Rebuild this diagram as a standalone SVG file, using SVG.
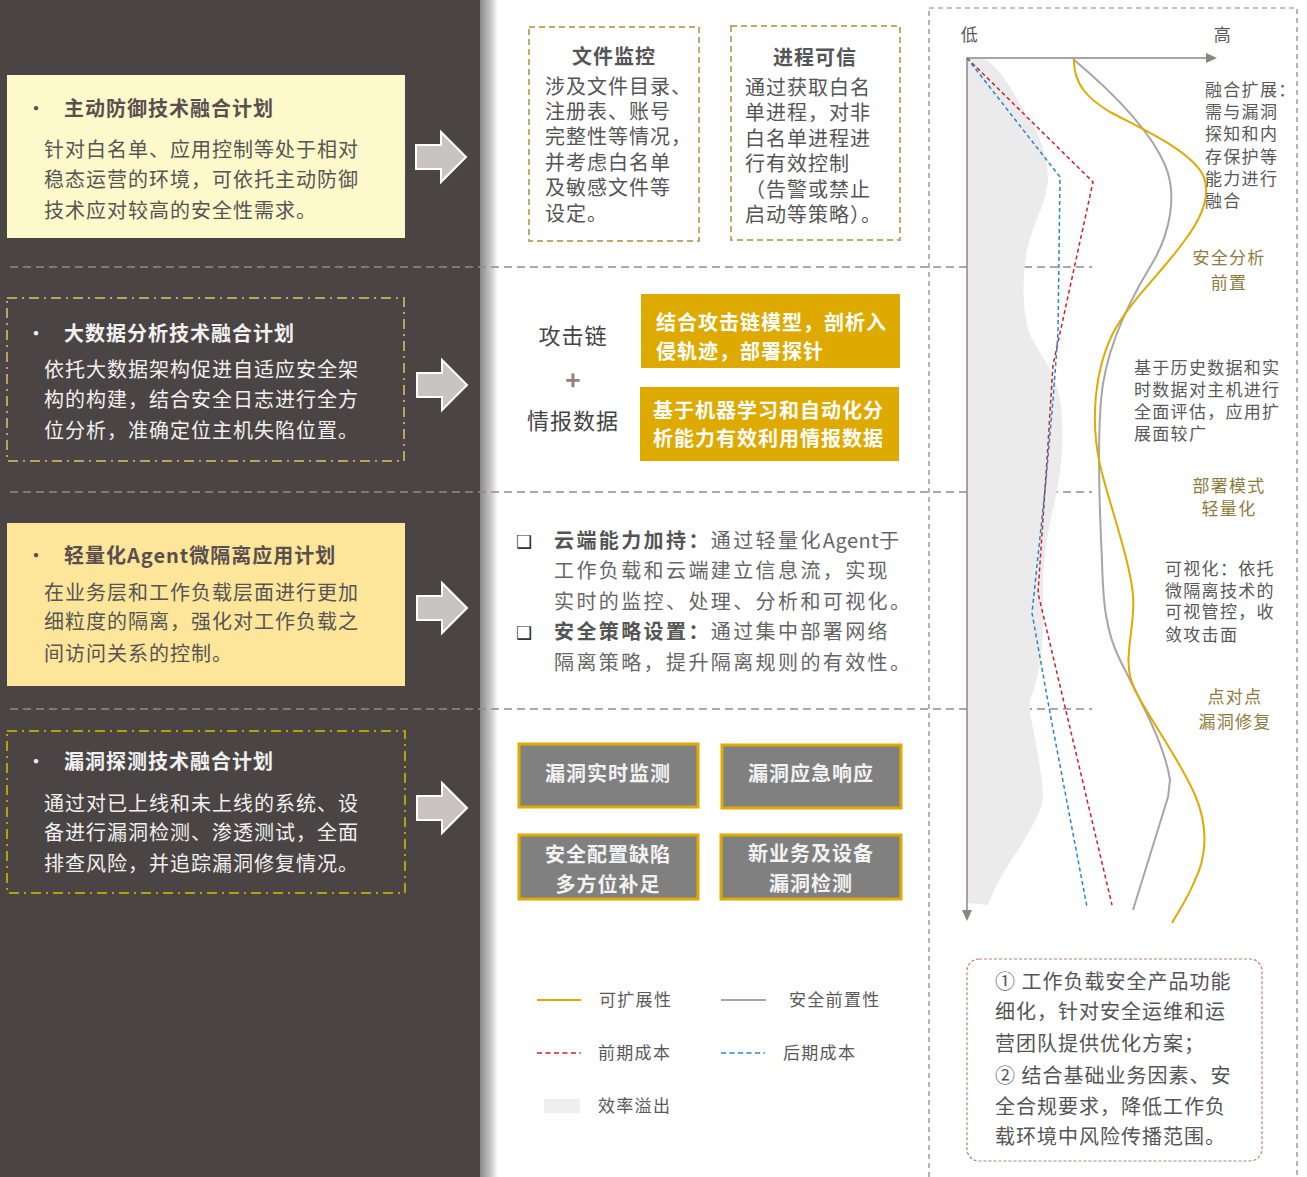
<svg xmlns="http://www.w3.org/2000/svg" width="1307" height="1177" viewBox="0 0 1307 1177">
<defs>
<style>
text{font-family:"Noto Sans CJK SC","Noto Sans",sans-serif;}
.t20{font-size:20px;letter-spacing:1px;}
.b{font-weight:bold;}
.dk{fill:#555;}
.wt{fill:#f0f0f0;}
.ttl1{fill:#5a4f4f;font-weight:bold;}
.sep{stroke:#948b8b;stroke-width:1.5;stroke-dasharray:8 5;fill:none;}
.tbox{fill:none;stroke:#c0aa6a;stroke-width:2;stroke-dasharray:6 4;}
.gbox{fill:#dfaa00;}
.vbox{fill:#808080;stroke:#e0aa00;stroke-width:3;}
.cl{font-size:20px;letter-spacing:2.4px;fill:#666;}
.cl .b{fill:#555;}
.lat{letter-spacing:0.5px;}
.lab{font-size:17px;letter-spacing:1.3px;fill:#595959;}
.gold{font-size:17px;letter-spacing:1.3px;fill:#8f7b3e;}
.arw{fill:#c9c3c3;stroke:#fff;stroke-width:2;}
</style>
<linearGradient id="shadow" x1="0" y1="0" x2="1" y2="0">
<stop offset="0" stop-color="#8a8a8a"/>
<stop offset="0.6" stop-color="#c8c8c8"/>
<stop offset="1" stop-color="#ffffff"/>
</linearGradient>
<path id="arrow" d="M0,-12 H25 V-25 L50,0 L25,25 V12 H0 Z"/>
</defs>
<rect x="0" y="0" width="1307" height="1177" fill="#fff"/>
<rect x="0" y="0" width="480" height="1177" fill="#4a4544"/>
<rect x="480" y="0" width="18" height="1177" fill="url(#shadow)"/>

<g id="separators">
<line class="sep" x1="10" y1="267" x2="1092" y2="267"/>
<line class="sep" x1="10" y1="492" x2="1092" y2="492"/>
<line class="sep" x1="10" y1="709" x2="1092" y2="709"/>
</g>

<g id="plan1">
<rect x="7" y="75" width="398" height="163" fill="#fef9cb"/>
<text x="26" y="116" class="t20" fill="#5a4f4f">•</text>
<text x="64" y="116" class="t20 ttl1">主动防御技术融合计划</text>
<text class="t20 dk"><tspan x="44" y="157">针对白名单、应用控制等处于相对</tspan><tspan x="44" y="187">稳态运营的环境，可依托主动防御</tspan><tspan x="44" y="218">技术应对较高的安全性需求。</tspan></text>
</g>
<g id="plan2">
<rect x="7" y="298" width="397" height="163" fill="none" stroke="#b8a558" stroke-width="2" stroke-dasharray="10 5 2 5"/>
<text x="26" y="341" class="t20 wt">•</text>
<text x="64" y="341" class="t20 wt b">大数据分析技术融合计划</text>
<text class="t20 wt"><tspan x="44" y="377">依托大数据架构促进自适应安全架</tspan><tspan x="44" y="407">构的构建，结合安全日志进行全方</tspan><tspan x="44" y="438">位分析，准确定位主机失陷位置。</tspan></text>
</g>
<g id="plan3">
<rect x="7" y="523" width="398" height="163" fill="#fde59a"/>
<text x="26" y="563" class="t20" fill="#5a4f4f">•</text>
<text x="64" y="563" class="t20 ttl1">轻量化Agent微隔离应用计划</text>
<text class="t20 dk"><tspan x="44" y="600">在业务层和工作负载层面进行更加</tspan><tspan x="44" y="629">细粒度的隔离，强化对工作负载之</tspan><tspan x="44" y="661">间访问关系的控制。</tspan></text>
</g>
<g id="plan4">
<rect x="7" y="731" width="398" height="162" fill="none" stroke="#b3a300" stroke-width="2" stroke-dasharray="10 5 2 5"/>
<text x="26" y="769" class="t20 wt">•</text>
<text x="64" y="769" class="t20 wt b">漏洞探测技术融合计划</text>
<text class="t20 wt"><tspan x="44" y="811">通过对已上线和未上线的系统、设</tspan><tspan x="44" y="840">备进行漏洞检测、渗透测试，全面</tspan><tspan x="44" y="871">排查风险，并追踪漏洞修复情况。</tspan></text>
</g>

<g id="arrows">
<use href="#arrow" class="arw" transform="translate(416,157)"/>
<use href="#arrow" class="arw" transform="translate(417,385)"/>
<use href="#arrow" class="arw" transform="translate(417,608)"/>
<use href="#arrow" class="arw" transform="translate(417,808)"/>
</g>

<g id="file-monitor">
<rect class="tbox" x="529" y="27" width="170" height="214"/>
<text x="614" y="64" class="t20 b dk" text-anchor="middle">文件监控</text>
<text class="t20 dk"><tspan x="545" y="94">涉及文件目录、</tspan><tspan x="545" y="119">注册表、账号</tspan><tspan x="545" y="144">完整性等情况，</tspan><tspan x="545" y="170">并考虑白名单</tspan><tspan x="545" y="195">及敏感文件等</tspan><tspan x="545" y="221">设定。</tspan></text>
</g>
<g id="process-trust">
<rect class="tbox" x="731" y="26" width="169" height="214"/>
<text x="815" y="65" class="t20 b dk" text-anchor="middle">进程可信</text>
<text class="t20 dk"><tspan x="745" y="95">通过获取白名</tspan><tspan x="745" y="120">单进程，对非</tspan><tspan x="745" y="146">白名单进程进</tspan><tspan x="745" y="171">行有效控制</tspan><tspan x="745" y="197">（告警或禁止</tspan><tspan x="745" y="222">启动等策略）。</tspan></text>
</g>

<g id="attack-chain">
<text x="573" y="344" font-size="22" letter-spacing="1" fill="#444" text-anchor="middle">攻击链</text>
<text x="573" y="390" font-size="26" font-weight="bold" fill="#9b7b7b" text-anchor="middle">+</text>
<text x="573" y="429" font-size="22" letter-spacing="1" fill="#444" text-anchor="middle">情报数据</text>
</g>
<g id="gold-box-1">
<rect class="gbox" x="641" y="294" width="259" height="74"/>
<text class="t20 b" fill="#fff"><tspan x="656" y="330">结合攻击链模型，剖析入</tspan><tspan x="656" y="359">侵轨迹，部署探针</tspan></text>
</g>
<g id="gold-box-2">
<rect class="gbox" x="640" y="387" width="259" height="74"/>
<text class="t20 b" fill="#fff"><tspan x="653" y="418">基于机器学习和自动化分</tspan><tspan x="653" y="446">析能力有效利用情报数据</tspan></text>
</g>

<g id="cloud-text">
<text x="516" y="548" font-family="DejaVu Sans, sans-serif" font-size="18" fill="#333">❑</text>
<text x="516" y="639" font-family="DejaVu Sans, sans-serif" font-size="18" fill="#333">❑</text>
<text class="cl"><tspan x="554" y="548" class="b">云端能力加持：</tspan><tspan>通过轻量化</tspan><tspan class="lat">Agent</tspan><tspan>于</tspan></text>
<text class="cl" x="554" y="578">工作负载和云端建立信息流，实现</text>
<text class="cl" x="554" y="609">实时的监控、处理、分析和可视化。</text>
<text class="cl"><tspan x="554" y="639" class="b">安全策略设置：</tspan><tspan>通过集中部署网络</tspan></text>
<text class="cl" x="554" y="670">隔离策略，提升隔离规则的有效性。</text>
</g>

<g id="vuln-1">
<rect class="vbox" x="519" y="744" width="179" height="63"/>
<text x="608" y="781" class="t20 b" fill="#f2f2f2" text-anchor="middle">漏洞实时监测</text>
</g>
<g id="vuln-2">
<rect class="vbox" x="722" y="745" width="179" height="63"/>
<text x="811" y="781" class="t20 b" fill="#f2f2f2" text-anchor="middle">漏洞应急响应</text>
</g>
<g id="vuln-3">
<rect class="vbox" x="519" y="835" width="179" height="64"/>
<text class="t20 b" fill="#f2f2f2" text-anchor="middle"><tspan x="608" y="862">安全配置缺陷</tspan><tspan x="608" y="892">多方位补足</tspan></text>
</g>
<g id="vuln-4">
<rect class="vbox" x="721" y="835" width="180" height="64"/>
<text class="t20 b" fill="#f2f2f2" text-anchor="middle"><tspan x="811" y="861">新业务及设备</tspan><tspan x="811" y="891">漏洞检测</tspan></text>
</g>

<g id="chart">
<rect x="929" y="8" width="368" height="1175" fill="none" stroke="#8a8080" stroke-width="1.2" stroke-dasharray="5 4"/>
<path d="M967,58 L987,60 C1000,70 1012,88 1020,105 C1035,125 1048,150 1048,180 C1046,205 1032,225 1027,250 C1022,280 1022,310 1030,335 C1040,355 1055,370 1060,400 C1065,430 1062,470 1055,500 C1048,530 1042,560 1043,600 C1044,640 1042,670 1030,700 L1030,713 C1035,740 1043,775 1043,800 C1040,815 1030,830 1020,847 C1008,865 995,885 988,905 L967,903 Z" fill="#ebebeb"/>
<line x1="967" y1="58" x2="967" y2="912" stroke="#8c8584" stroke-width="1.5"/>
<line x1="967" y1="58" x2="1208" y2="58" stroke="#8c8584" stroke-width="1.5"/>
<path d="M962,910 L972,910 L967,921 Z" fill="#8c8584"/>
<path d="M1206,53 L1217,58 L1206,63 Z" fill="#8c8584"/>
<text x="970" y="41" class="lab" text-anchor="middle">低</text>
<text x="1223" y="41" class="lab" text-anchor="middle">高</text>
<path d="M967,58 L1093,182 L1053,365 L1047,460 L1038,593 L1112,905" fill="none" stroke="#d0202a" stroke-width="1.5" stroke-dasharray="4 3"/>
<path d="M967,58 L1060,177 L1058,333 L1053,400 L1046,480 L1032,613 L1050,713 L1087,907" fill="none" stroke="#2a84cc" stroke-width="1.5" stroke-dasharray="4 3"/>
<path d="M1073,59 C1110,90 1150,130 1165,165 C1178,195 1170,235 1150,267 C1130,300 1105,350 1101,400 C1097,450 1100,520 1102,560 C1103,600 1105,630 1120,660 C1140,700 1165,745 1170,780 L1168,797 L1133,910" fill="none" stroke="#a6a6a6" stroke-width="2"/>
<path d="M1074,59 C1073,85 1090,100 1110,112 C1140,128 1190,150 1203,175 C1212,195 1200,220 1185,240 C1160,275 1130,300 1112,335 C1095,370 1090,420 1100,465 C1108,500 1130,560 1133,595 C1136,630 1120,660 1135,690 C1150,720 1180,760 1195,795 C1210,830 1205,860 1195,880 C1188,898 1178,912 1172,923" fill="none" stroke="#e0aa00" stroke-width="2"/>
<text class="lab"><tspan x="1205" y="96">融合扩展：</tspan><tspan x="1205" y="118">需与漏洞</tspan><tspan x="1205" y="140">探知和内</tspan><tspan x="1205" y="163">存保护等</tspan><tspan x="1205" y="185">能力进行</tspan><tspan x="1205" y="207">融合</tspan></text>
<text class="gold" text-anchor="middle"><tspan x="1229" y="264">安全分析</tspan><tspan x="1229" y="289">前置</tspan></text>
<text class="lab"><tspan x="1134" y="374">基于历史数据和实</tspan><tspan x="1134" y="396">时数据对主机进行</tspan><tspan x="1134" y="418">全面评估，应用扩</tspan><tspan x="1134" y="440">展面较广</tspan></text>
<text class="gold" text-anchor="middle"><tspan x="1229" y="492">部署模式</tspan><tspan x="1229" y="515">轻量化</tspan></text>
<text class="lab"><tspan x="1165" y="575">可视化：依托</tspan><tspan x="1165" y="597">微隔离技术的</tspan><tspan x="1165" y="618">可视管控，收</tspan><tspan x="1165" y="641">敛攻击面</tspan></text>
<text class="gold" text-anchor="middle"><tspan x="1235" y="703">点对点</tspan><tspan x="1235" y="728">漏洞修复</tspan></text>
</g>

<g id="legend">
<line x1="537" y1="1000" x2="581" y2="1000" stroke="#e0aa00" stroke-width="2"/>
<text x="599" y="1006" class="lab">可扩展性</text>
<line x1="721" y1="1000" x2="766" y2="1000" stroke="#a6a6a6" stroke-width="2"/>
<text x="789" y="1006" class="lab">安全前置性</text>
<line x1="537" y1="1053" x2="581" y2="1053" stroke="#d0202a" stroke-width="1.5" stroke-dasharray="5 3.5"/>
<text x="598" y="1059" class="lab">前期成本</text>
<line x1="721" y1="1053" x2="765" y2="1053" stroke="#2a84cc" stroke-width="1.5" stroke-dasharray="5 3.5"/>
<text x="783" y="1059" class="lab">后期成本</text>
<rect x="544" y="1099" width="36" height="14" fill="#efefef"/>
<text x="598" y="1112" class="lab">效率溢出</text>
</g>

<g id="note">
<rect x="967" y="959" width="295" height="202" rx="12" fill="none" stroke="#b98080" stroke-width="1.2" stroke-dasharray="3 2"/>
<text class="t20 dk"><tspan x="995" y="989">① 工作负载安全产品功能</tspan><tspan x="995" y="1019">细化，针对安全运维和运</tspan><tspan x="995" y="1051">营团队提供优化方案；</tspan><tspan x="995" y="1083">② 结合基础业务因素、安</tspan><tspan x="995" y="1114">全合规要求，降低工作负</tspan><tspan x="995" y="1144">载环境中风险传播范围。</tspan></text>
</g>
</svg>
